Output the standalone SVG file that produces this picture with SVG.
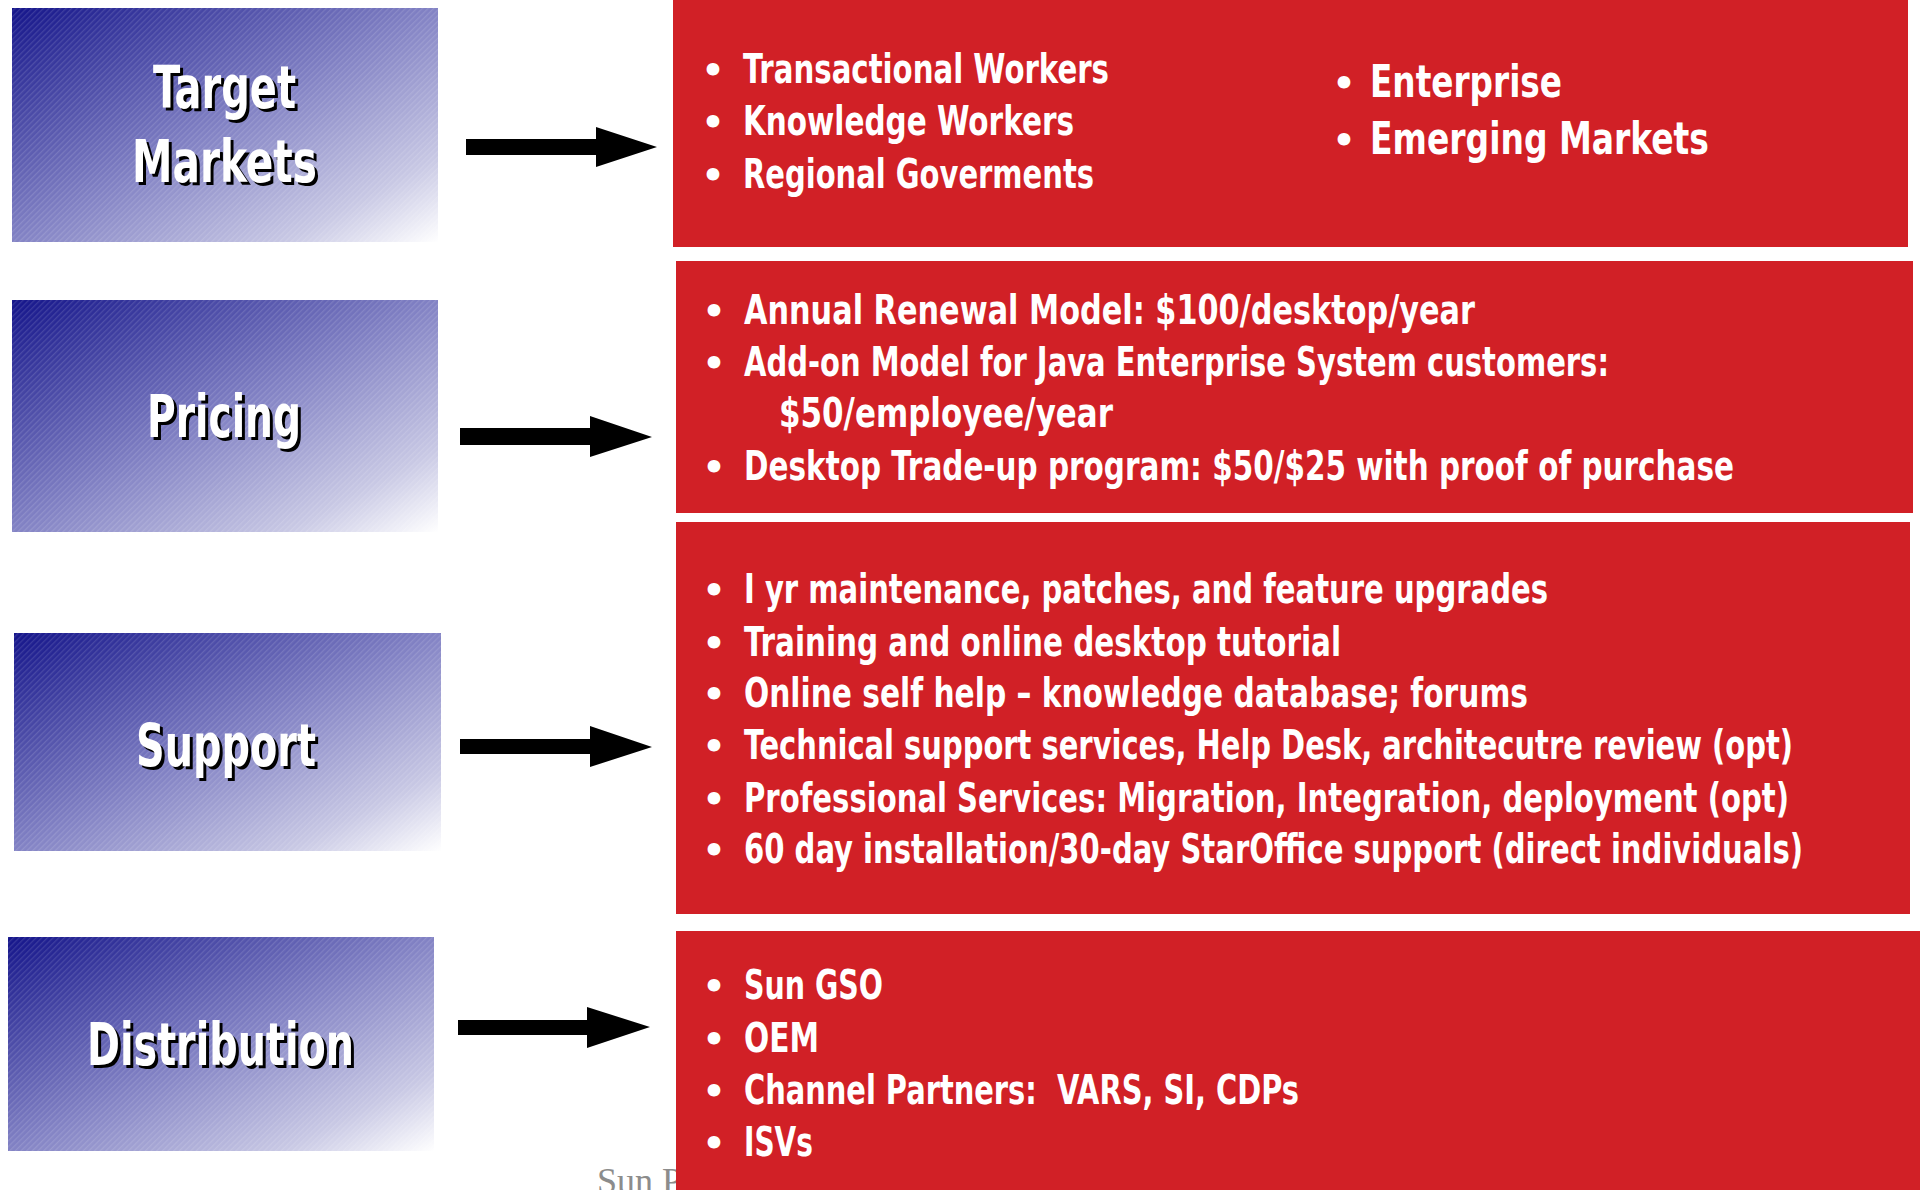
<svg xmlns="http://www.w3.org/2000/svg" width="1920" height="1190" viewBox="0 0 1920 1190">
<defs>
<linearGradient id="blueGrad" x1="0" y1="0" x2="1" y2="1">
<stop offset="0" stop-color="#14148a"/>
<stop offset="0.5" stop-color="#8282c4"/>
<stop offset="0.82" stop-color="#c8c8e4"/>
<stop offset="1" stop-color="#ffffff"/>
</linearGradient>
<pattern id="hatch" width="4" height="4" patternUnits="userSpaceOnUse" patternTransform="rotate(45)">
<rect width="1.3" height="4" fill="#ffffff" fill-opacity="0.13"/>
</pattern>
<marker id="none" markerWidth="1" markerHeight="1"/>
</defs>
<style>
.lbl{font-family:"DejaVu Sans Condensed","Liberation Sans Narrow","DejaVu Sans",sans-serif;font-weight:bold;font-size:58px;font-stretch:condensed}
.lbl-w{fill:#ffffff}
.lbl-s{fill:#000000}
.red{fill:#d12026}
.it{font-family:"DejaVu Sans Condensed","Liberation Sans Narrow","DejaVu Sans",sans-serif;font-weight:bold;font-size:41px;fill:#ffffff;font-stretch:condensed}
.big{font-size:44px}
.bul{font-family:"DejaVu Sans",sans-serif;font-weight:bold;font-size:36px;fill:#ffffff;text-anchor:middle}
.arrow{fill:#000000}
.foot{font-family:"Liberation Serif",serif;font-size:36px;fill:#8c8c8c}
</style>
<rect width="1920" height="1190" fill="#ffffff"/>
<text class="foot" x="597" y="1193">Sun P</text>

<g id="target-markets">
<rect x="12" y="8" width="426" height="234" fill="url(#blueGrad)"/>
<rect x="12" y="8" width="426" height="234" fill="url(#hatch)"/>
<text class="lbl lbl-s" x="156" y="111" textLength="143" lengthAdjust="spacingAndGlyphs">Target</text>
<text class="lbl lbl-w" x="153" y="108" textLength="143" lengthAdjust="spacingAndGlyphs">Target</text>
<text class="lbl lbl-s" x="135" y="185" textLength="185" lengthAdjust="spacingAndGlyphs">Markets</text>
<text class="lbl lbl-w" x="132" y="182" textLength="185" lengthAdjust="spacingAndGlyphs">Markets</text>
</g>

<g id="pricing">
<rect x="12" y="300" width="426" height="232" fill="url(#blueGrad)"/>
<rect x="12" y="300" width="426" height="232" fill="url(#hatch)"/>
<text class="lbl lbl-s" x="150" y="440" textLength="154" lengthAdjust="spacingAndGlyphs">Pricing</text>
<text class="lbl lbl-w" x="147" y="437" textLength="154" lengthAdjust="spacingAndGlyphs">Pricing</text>
</g>

<g id="support">
<rect x="14" y="633" width="427" height="218" fill="url(#blueGrad)"/>
<rect x="14" y="633" width="427" height="218" fill="url(#hatch)"/>
<text class="lbl lbl-s" x="139" y="769" textLength="180" lengthAdjust="spacingAndGlyphs">Support</text>
<text class="lbl lbl-w" x="136" y="766" textLength="180" lengthAdjust="spacingAndGlyphs">Support</text>
</g>

<g id="distribution">
<rect x="8" y="937" width="426" height="214" fill="url(#blueGrad)"/>
<rect x="8" y="937" width="426" height="214" fill="url(#hatch)"/>
<text class="lbl lbl-s" x="90" y="1068" textLength="267" lengthAdjust="spacingAndGlyphs">Distribution</text>
<text class="lbl lbl-w" x="87" y="1065" textLength="267" lengthAdjust="spacingAndGlyphs">Distribution</text>
</g>

<g id="connectors">
<polygon class="arrow" points="466,139 596,139 596,127 657,147 596,167 596,155 466,155"/>
<polygon class="arrow" points="460,428 590,428 590,416 652,437 590,457 590,445 460,445"/>
<polygon class="arrow" points="460,739 590,739 590,726 652,747 590,767 590,754 460,754"/>
<polygon class="arrow" points="458,1020 587,1020 587,1007 650,1027 587,1048 587,1035 458,1035"/>
</g>

<g id="target-markets-details">
<rect class="red" x="673" y="0" width="1235" height="247"/>
<text class="bul" x="713" y="83">•</text>
<text class="it" x="743" y="83" textLength="366" lengthAdjust="spacingAndGlyphs">Transactional Workers</text>
<text class="bul" x="713" y="135">•</text>
<text class="it" x="743" y="135" textLength="331" lengthAdjust="spacingAndGlyphs">Knowledge Workers</text>
<text class="bul" x="713" y="188">•</text>
<text class="it" x="743" y="188" textLength="351" lengthAdjust="spacingAndGlyphs">Regional Goverments</text>
<text class="bul" x="1344" y="96">•</text>
<text class="it big" x="1370" y="97" textLength="192" lengthAdjust="spacingAndGlyphs">Enterprise</text>
<text class="bul" x="1344" y="153">•</text>
<text class="it big" x="1370" y="154" textLength="339" lengthAdjust="spacingAndGlyphs">Emerging Markets</text>
</g>

<g id="pricing-details">
<rect class="red" x="676" y="261" width="1237" height="252"/>
<text class="bul" x="714" y="324">•</text>
<text class="it" x="744" y="324" textLength="731" lengthAdjust="spacingAndGlyphs">Annual Renewal Model: $100/desktop/year</text>
<text class="bul" x="714" y="376">•</text>
<text class="it" x="744" y="376" textLength="865" lengthAdjust="spacingAndGlyphs">Add-on Model for Java Enterprise System customers:</text>
<text class="it" x="779" y="427" textLength="334" lengthAdjust="spacingAndGlyphs">$50/employee/year</text>
<text class="bul" x="714" y="480">•</text>
<text class="it" x="744" y="480" textLength="990" lengthAdjust="spacingAndGlyphs">Desktop Trade-up program: $50/$25 with proof of purchase</text>
</g>

<g id="support-details">
<rect class="red" x="676" y="522" width="1234" height="392"/>
<text class="bul" x="714" y="603">•</text>
<text class="it" x="744" y="603" textLength="804" lengthAdjust="spacingAndGlyphs">I yr maintenance, patches, and feature upgrades</text>
<text class="bul" x="714" y="656">•</text>
<text class="it" x="744" y="656" textLength="597" lengthAdjust="spacingAndGlyphs">Training and online desktop tutorial</text>
<text class="bul" x="714" y="707">•</text>
<text class="it" x="744" y="707" textLength="784" lengthAdjust="spacingAndGlyphs">Online self help – knowledge database; forums</text>
<text class="bul" x="714" y="759">•</text>
<text class="it" x="744" y="759" textLength="1049" lengthAdjust="spacingAndGlyphs">Technical support services, Help Desk, architecutre review (opt)</text>
<text class="bul" x="714" y="812">•</text>
<text class="it" x="744" y="812" textLength="1045" lengthAdjust="spacingAndGlyphs">Professional Services: Migration, Integration, deployment (opt)</text>
<text class="bul" x="714" y="863">•</text>
<text class="it" x="744" y="863" textLength="1059" lengthAdjust="spacingAndGlyphs">60 day installation/30-day StarOffice support (direct individuals)</text>
</g>

<g id="distribution-details">
<rect class="red" x="676" y="931" width="1244" height="259"/>
<text class="bul" x="714" y="999">•</text>
<text class="it" x="744" y="999" textLength="139" lengthAdjust="spacingAndGlyphs">Sun GSO</text>
<text class="bul" x="714" y="1052">•</text>
<text class="it" x="744" y="1052" textLength="75" lengthAdjust="spacingAndGlyphs">OEM</text>
<text class="bul" x="714" y="1104">•</text>
<text class="it" x="744" y="1104" textLength="555" lengthAdjust="spacingAndGlyphs" xml:space="preserve">Channel Partners:  VARS, SI, CDPs</text>
<text class="bul" x="714" y="1156">•</text>
<text class="it" x="744" y="1156" textLength="69" lengthAdjust="spacingAndGlyphs">ISVs</text>
</g>
</svg>
